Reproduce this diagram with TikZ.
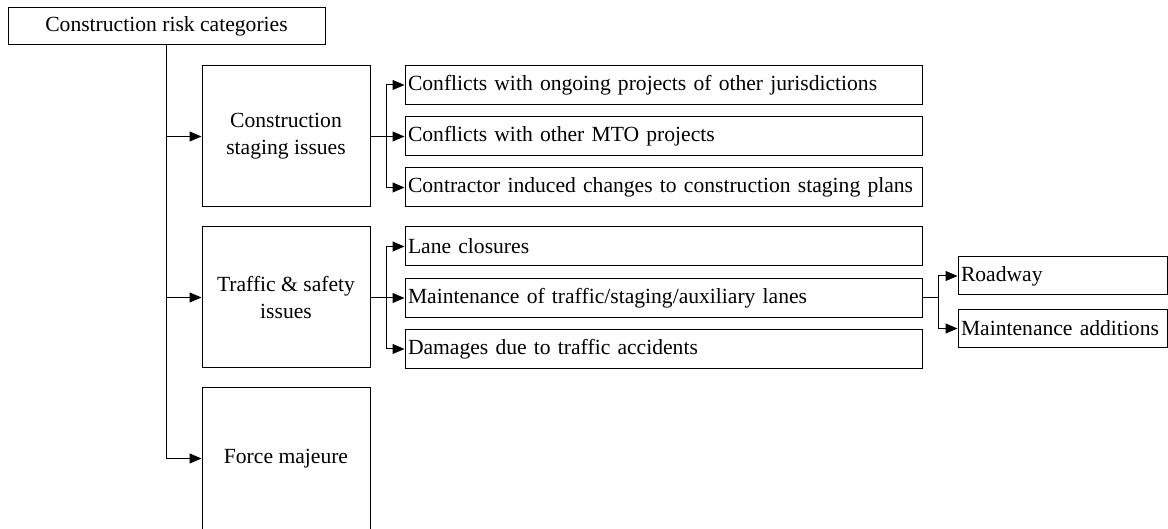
\documentclass[tikz,border=0pt]{standalone}
\usepackage{fontspec}
\setmainfont{Liberation Serif}
\usetikzlibrary{arrows.meta}
\begin{document}
\begin{tikzpicture}[x=1pt,y=-1pt,
  font=\fontsize{21.6}{27}\selectfont,
  every node/.style={draw, line width=1pt, inner sep=0pt},
  catbox/.style={minimum width=168pt, minimum height=141pt, align=center},
  itembox/.style={text width=511pt, align=left, inner xsep=3pt, minimum height=39pt},
  subbox/.style={text width=203pt, align=left, inner xsep=3pt, minimum height=38pt},
  conn/.style={line width=1pt, -{Triangle[length=12pt,width=10pt]}}
]
\useasboundingbox (0,0) rectangle (1168,529);

\node[minimum width=317pt, minimum height=37pt] (root) at (166.5,26.5) {Construction risk categories};

\node[catbox] (stag) at (286,136.5) {Construction\\staging issues};
\node[catbox] (traf) at (286,297.5) {Traffic \& safety\\issues};
\node[catbox] (force) at (286,458.5) {Force majeure};

\node[itembox] (c1) at (663.5,85) {Conflicts with ongoing projects of other jurisdictions};
\node[itembox] (c2) at (663.5,136.5) {Conflicts with other MTO projects};
\node[itembox] (c3) at (663.5,187.5) {Contractor induced changes to construction staging plans};
\node[itembox] (t1) at (663.5,246.5) {Lane closures};
\node[itembox] (t2) at (663.5,298) {Maintenance of traffic/staging/auxiliary lanes};
\node[itembox] (t3) at (663.5,349) {Damages due to traffic accidents};

\node[subbox] (r1) at (1062.5,276) {Roadway};
\node[subbox] (r2) at (1062.5,328.5) {Maintenance additions};

\draw[conn] (root.south) |- (stag.west);
\draw[conn] (root.south) |- (traf.west);
\draw[conn] (root.south) |- (force.west);

\draw[conn] (stag.east) -- ++(16,0) |- (c1.west);
\draw[conn] (stag.east) -- (c2.west);
\draw[conn] (stag.east) -- ++(16,0) |- (c3.west);

\draw[conn] (traf.east) -- ++(16,0) |- (t1.west);
\draw[conn] (traf.east) -- ++(16,0) |- (t2.west);
\draw[conn] (traf.east) -- ++(16,0) |- (t3.west);

\draw[conn] (t2.east) -- ++(16,0) |- (r1.west);
\draw[conn] (t2.east) -- ++(16,0) |- (r2.west);
\end{tikzpicture}
\end{document}
